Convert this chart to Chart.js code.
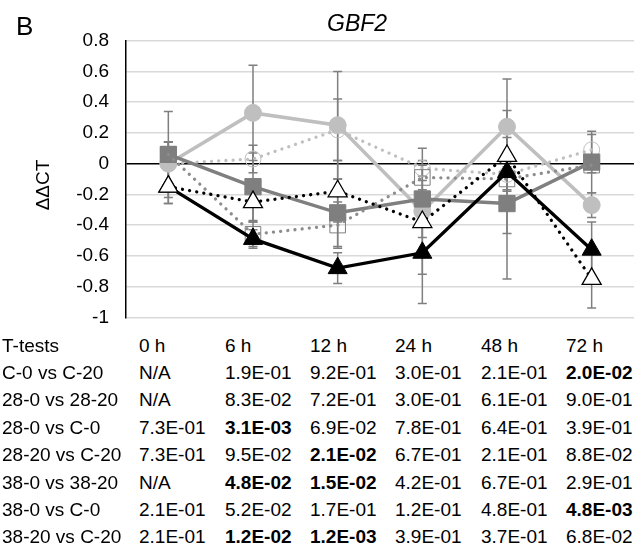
<!DOCTYPE html>
<html>
<head>
<meta charset="utf-8">
<script src="https://cdn.jsdelivr.net/npm/chart.js@4"></script>
<style>
  html, body { margin: 0; padding: 0; background: #fff; overflow: hidden; }
  body { width: 637px; height: 546px; position: relative;
         font-family: "Liberation Sans", Arial, sans-serif; color: #000; }
  #chart { position: absolute; left: 0; top: 0; }
  .lbl { position: absolute; white-space: nowrap; }
  #panel { left: 16px; top: 13px; font-size: 26px; line-height: 26px; }
  #title { left: 327px; top: 12px; font-size: 23px; line-height: 23px; font-style: italic; }
  #ytitle { left: 42px; top: 185px; font-size: 19px; line-height: 19px;
            transform: translate(-50%, -50%) rotate(-90deg); }
  .cell { position: absolute; font-size: 19px; line-height: 16px; white-space: nowrap; }
  .cell.b { font-weight: bold; }
</style>
</head>
<body>
<canvas id="chart" width="637" height="330"></canvas>
<div id="panel" class="lbl">B</div>
<div id="title" class="lbl">GBF2</div>
<div id="ytitle" class="lbl">ΔΔCT</div>
<div id="table"></div>
<script>
(function(){
  'use strict';

  // x categories and y ticks
  const categories = ['0 h', '6 h', '12 h', '24 h', '48 h', '72 h'];
  const yTicks = [0.8, 0.6, 0.4, 0.2, 0, -0.2, -0.4, -0.6, -0.8, -1];

  // ddCT means and error values per series
  const c0 = [0, 0.33, 0.25, -0.31, 0.24, -0.27];
  const c0Err = [0.14, 0.31, 0.35, 0.41, 0.31, 0.08];
  const c20 = [0, 0.03, 0.22, -0.03, -0.07, 0.09];
  const c20Err = [0.14, 0.09, 0.2, 0.05, 0.1, 0.1];
  const t28_0 = [0.06, -0.15, -0.32, -0.23, -0.26, 0.01];
  const t28_0Err = [0.28, 0.22, 0.22, 0.12, 0.49, 0.2];
  const t28_20 = [0.06, -0.46, -0.40, -0.09, -0.10, -0.01];
  const t28_20Err = [0.08, 0.08, 0.15, 0.08, 0.08, 0.05];
  const t38_0 = [-0.15, -0.49, -0.68, -0.58, -0.055, -0.56];
  const t38_0Err = [0.11, 0.06, 0.1, 0.33, 0.40, 0.18];
  const t38_20 = [-0.15, -0.25, -0.18, -0.38, 0.05, -0.75];
  const t38_20Err = [0.11, 0.13, 0.2, 0.1, 0.12, 0.19];

  // t-test table
  const testHeader = 'T-tests';
  const testNames = ['C-0 vs C-20', '28-0 vs 28-20', '28-0 vs C-0', '28-20 vs C-20',
                     '38-0 vs 38-20', '38-0 vs C-0', '38-20 vs C-20'];
  const pC0vsC20 = ['N/A', '1.9E-01', '9.2E-01', '3.0E-01', '2.1E-01', '2.0E-02'];
  const p280vs2820 = ['N/A', '8.3E-02', '7.2E-01', '3.0E-01', '6.1E-01', '9.0E-01'];
  const p280vsC0 = ['7.3E-01', '3.1E-03', '6.9E-02', '7.8E-01', '6.4E-01', '3.9E-01'];
  const p2820vsC20 = ['7.3E-01', '9.5E-02', '2.1E-02', '6.7E-01', '2.1E-01', '8.8E-02'];
  const p380vs3820 = ['N/A', '4.8E-02', '1.5E-02', '4.2E-01', '6.7E-01', '2.9E-01'];
  const p380vsC0 = ['2.1E-01', '5.2E-02', '1.7E-01', '1.2E-01', '4.8E-01', '4.8E-03'];
  const p3820vsC20 = ['2.1E-01', '1.2E-02', '1.2E-03', '3.9E-01', '3.7E-01', '6.8E-02'];
  const pRows = [pC0vsC20, p280vs2820, p280vsC0, p2820vsC20, p380vs3820, p380vsC0, p3820vsC20];

  // layout of the table (style only)
  const colX = [2, 139, 225, 310, 395, 481, 566];
  const rowTop0 = 337.5, rowStep = 27.4;

  const LIGHT = '#bfbfbf', MID = '#7f7f7f', DARK = '#000000';
  const DOTS = [0.01, 7.2];

  function addCell(parent, text, x, row, bold){
    const d = document.createElement('div');
    d.className = 'cell' + (bold ? ' b' : '');
    d.textContent = text;
    d.style.left = x + 'px';
    d.style.top = (rowTop0 + row * rowStep) + 'px';
    parent.appendChild(d);
  }

  function buildTable(){
    const t = document.getElementById('table');
    addCell(t, testHeader, colX[0], 0, false);
    categories.forEach((c, i) => addCell(t, c, colX[i + 1], 0, false));
    testNames.forEach((name, r) => {
      addCell(t, name, colX[0], r + 1, false);
      pRows[r].forEach((p, i) => {
        const v = parseFloat(p);
        addCell(t, p, colX[i + 1], r + 1, !isNaN(v) && v < 0.05);
      });
    });
  }

  function series(label, data, err, o){
    return Object.assign({
      label: label, data: data, errors: err,
      borderCapStyle: 'round', tension: 0, fill: false,
      pointBorderWidth: 1, pointHoverRadius: 0
    }, o);
  }

  // error bars drawn behind the series
  const errorBars = {
    id: 'errorBars',
    beforeDatasetsDraw(chart){
      const ctx = chart.ctx, y = chart.scales.y;
      ctx.save();
      ctx.strokeStyle = '#7f7f7f';
      ctx.lineWidth = 1.5;
      chart.data.datasets.forEach((ds, di) => {
        const meta = chart.getDatasetMeta(di);
        if (!ds.errors) return;
        meta.data.forEach((pt, i) => {
          const v = ds.data[i], e = ds.errors[i];
          if (v == null || !e) return;
          const yt = y.getPixelForValue(v + e), yb = y.getPixelForValue(v - e);
          const x = pt.x, w = 4.5;
          ctx.beginPath();
          ctx.moveTo(x, yt); ctx.lineTo(x, yb);
          ctx.moveTo(x - w, yt); ctx.lineTo(x + w, yt);
          ctx.moveTo(x - w, yb); ctx.lineTo(x + w, yb);
          ctx.stroke();
        });
      });
      ctx.restore();
    }
  };

  function buildChart(){
    const el = document.getElementById('chart');
    if (!el || typeof Chart === 'undefined') return;

    const datasets = [
      series('C-0', c0, c0Err, { order: 6, borderColor: LIGHT, borderWidth: 3.5,
        pointStyle: 'circle', pointRadius: 8.5, pointBackgroundColor: LIGHT, pointBorderColor: LIGHT }),
      series('C-20', c20, c20Err, { order: 5, borderColor: LIGHT, borderWidth: 3.3, borderDash: DOTS,
        pointStyle: 'circle', pointRadius: 8, pointBackgroundColor: 'rgba(255,255,255,0)', pointBorderColor: LIGHT }),
      series('28-0', t28_0, t28_0Err, { order: 4, borderColor: MID, borderWidth: 3.5,
        pointStyle: 'rect', pointRadius: 11.5, pointBackgroundColor: MID, pointBorderColor: MID }),
      series('28-20', t28_20, t28_20Err, { order: 3, borderColor: '#8c8c8c', borderWidth: 3.3, borderDash: DOTS,
        pointStyle: 'rect', pointRadius: 11, pointBackgroundColor: 'rgba(255,255,255,0)', pointBorderColor: MID }),
      series('38-0', t38_0, t38_0Err, { order: 2, borderColor: DARK, borderWidth: 3.3,
        pointStyle: 'triangle', pointRadius: 11, pointBackgroundColor: DARK, pointBorderColor: DARK }),
      series('38-20', t38_20, t38_20Err, { order: 1, borderColor: DARK, borderWidth: 3.3, borderDash: DOTS,
        pointStyle: 'triangle', pointRadius: 11, pointBackgroundColor: '#ffffff', pointBorderColor: DARK, pointBorderWidth: 1.3 })
    ];

    try {
      new Chart(el, {
        type: 'line',
        data: { labels: categories, datasets: datasets },
        plugins: [errorBars],
        options: {
          responsive: false,
          animation: false,
          devicePixelRatio: 1,
          layout: { autoPadding: false, padding: { top: 40.7, right: 3, bottom: 12.7, left: 0 } },
          plugins: {
            legend: { display: false },
            tooltip: { enabled: false },
            title: { display: false }
          },
          scales: {
            x: {
              type: 'category',
              display: false,
              offset: true
            },
            y: {
              min: -1,
              max: 0.8,
              afterBuildTicks(scale){ scale.ticks = yTicks.map(v => ({ value: v })); },
              afterFit(scale){
                scale.width = 126;
                // keep label padding from pushing the plot area in
                scale.paddingTop = 0;
                scale.paddingBottom = 0;
              },
              border: { color: '#000', width: 1.5 },
              grid: {
                drawTicks: false,
                lineWidth: 1.5,
                color: c => (c.tick && c.tick.value === 0) ? '#000' : '#d9d9d9'
              },
              ticks: {
                padding: 17,
                color: '#000',
                font: { family: '"Liberation Sans", Arial, sans-serif', size: 19 },
                callback: v => String(Number(Number(v).toFixed(1)))
              }
            }
          }
        }
      });
    } catch(err) {
      console.error('Chart error:', err);
    }
  }

  buildTable();
  buildChart();
})();
</script>
</body>
</html>
